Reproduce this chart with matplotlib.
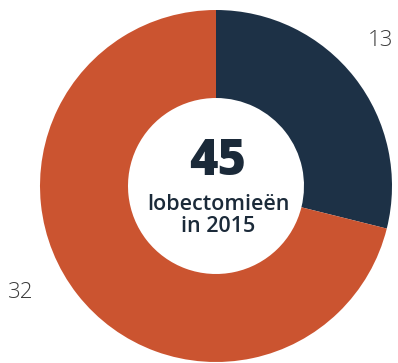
import matplotlib
matplotlib.use("Agg")
import matplotlib.pyplot as plt

categories = ["Categorie A", "Categorie B"]
values = [13, 32]
total = 45
colors = ["#1d3146", "#cb5430"]

W, H, DPI = 398, 363, 100
fig = plt.figure(figsize=(W / DPI, H / DPI), dpi=DPI)
ax = fig.add_axes([0, 0, 1, 1])

cx, cy, R = 216, 186, 176  # pixels
ax.pie(values, colors=colors, startangle=90, counterclock=False, radius=1,
       wedgeprops=dict(width=0.5, edgecolor="none"))
ax.set_xlim(-cx / R, (W - cx) / R)
ax.set_ylim(-(H - cy) / R, cy / R)
ax.set_aspect("auto")
ax.axis("off")

def px(x, y):
    return ((x - cx) / R, (cy - y) / R)

lab_font = dict(family=["Open Sans", "DejaVu Sans"], fontweight="light", color="#3a3a3a", fontsize=16)
ax.text(*px(381, 40), str(values[0]), ha="center", va="center", **lab_font)
ax.text(*px(21, 293), str(values[1]), ha="center", va="center", **lab_font)

ax.text(*px(218, 162), str(total), ha="center", va="center", fontsize=35,
        fontweight="heavy", color="#1b2a39", family=["Open Sans", "DejaVu Sans"])
ax.text(*px(218, 204), "lobectomieën", ha="center", va="center", fontsize=15.5,
        fontweight="semibold", color="#1b2a39", family=["Open Sans", "DejaVu Sans"])
ax.text(*px(218, 227), "in 2015", ha="center", va="center", fontsize=15.5,
        fontweight="semibold", color="#1b2a39", family=["Open Sans", "DejaVu Sans"])

fig.savefig("out.png", dpi=DPI, facecolor="white")
